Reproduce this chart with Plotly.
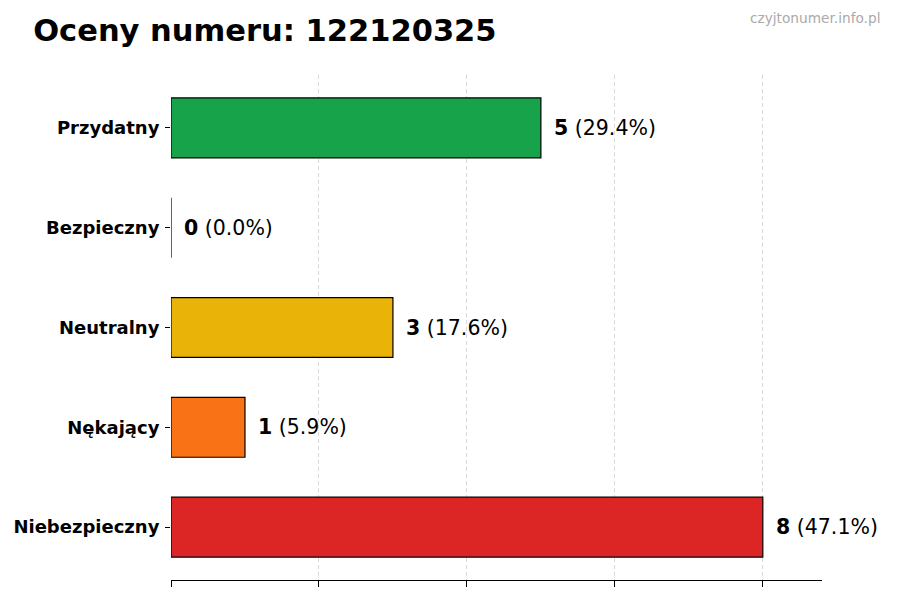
import plotly.graph_objects as go

# dane
categories = ["Niebezpieczny", "Nękający", "Neutralny", "Bezpieczny", "Przydatny"]
counts = [8, 1, 3, 0, 5]
colors = ["#dc2626", "#f97316", "#eab308", "#22c55e", "#16a34a"]
x_ticks = [0, 2, 4, 6, 8]
phone = "122120325"

total = sum(counts)
font = "DejaVu Sans"

fig = go.Figure()
fig.add_trace(go.Bar(
    y=categories,
    x=counts,
    orientation="h",
    width=0.6,
    marker=dict(color=colors, line=dict(color="black", width=1.2)),
    showlegend=False,
    hoverinfo="skip",
))

# etykiety przy słupkach
for cat, val in zip(categories, counts):
    pct = val / total * 100
    fig.add_annotation(
        x=val, y=cat, xref="x", yref="y",
        text=f"<b>{val}</b> ({pct:.1f}%)",
        showarrow=False, xanchor="left", yanchor="middle",
        xshift=11,
        font=dict(family=font, size=20.5, color="black"),
    )

fig.add_annotation(
    x=1, y=1, xref="paper", yref="paper",
    xanchor="right", yanchor="top",
    xshift=60, yshift=67,
    text="czyjtonumer.info.pl", showarrow=False,
    font=dict(family=font, size=13.7, color="#aaaaaa"),
)

fig.update_layout(
    width=900, height=600,
    margin=dict(l=163, r=86, t=67, b=28),
    plot_bgcolor="white", paper_bgcolor="white",
    title=dict(text=f"<b>Oceny numeru: {phone}</b>", x=0.028, xanchor="left",
               y=0.962, yanchor="middle",
               font=dict(family=font, size=30.5, color="black")),
    font=dict(family=font),
    bargap=0.4,
)
fig.update_xaxes(
    range=[0, 8.8], tickvals=x_ticks, showticklabels=False,
    ticks="outside", ticklen=6, tickcolor="black",
    showline=True, linecolor="black", linewidth=1.2,
    showgrid=True, gridcolor="#d9d9d9", griddash="4px,3px", gridwidth=1,
    zeroline=False, automargin=False,
)
fig.update_yaxes(
    range=[-0.53, 4.53], ticks="outside", ticklen=5, tickcolor="black",
    showline=False, showgrid=False, zeroline=False,
    tickfont=dict(family=font, size=18, color="black"),
    ticklabelstandoff=2, automargin=False,
)
# pogrubione etykiety kategorii
fig.update_yaxes(tickvals=categories, ticktext=[f"<b>{c}</b>" for c in categories])

fig.write_html("out.html")
